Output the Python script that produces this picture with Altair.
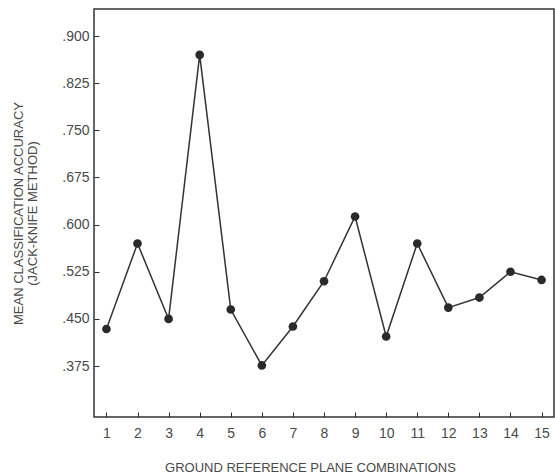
import altair as alt
import pandas as pd

combos = list(range(1, 16))
accuracy = [0.434, 0.570, 0.450, 0.870, 0.465, 0.376, 0.438, 0.510, 0.613,
            0.422, 0.570, 0.468, 0.484, 0.525, 0.512]
y_ticks = [0.375, 0.450, 0.525, 0.600, 0.675, 0.750, 0.825, 0.900]

df = pd.DataFrame({"combo": combos, "acc": accuracy})

FONT = "Liberation Sans"
TXT = "#4a4a4a"
INK = "#2a2a2a"

x = alt.X("combo:Q",
          scale=alt.Scale(domain=[0.6, 15.4], nice=False, zero=False),
          axis=alt.Axis(values=combos, format="d", offset=-5, tickSize=5,
                        tickColor=INK, tickWidth=1, domain=False, grid=False,
                        labelPadding=9, labelFont=FONT, labelFontSize=14,
                        labelColor=TXT, title="GROUND REFERENCE PLANE COMBINATIONS",
                        titleFont=FONT, titleFontSize=13, titleFontWeight="normal",
                        titleColor=TXT, titlePadding=21, titleX=216))
y = alt.Y("acc:Q",
          scale=alt.Scale(domain=[0.294, 0.943], nice=False, zero=False),
          axis=alt.Axis(values=y_ticks, offset=-5, tickSize=5, tickColor=INK,
                        tickWidth=1, domain=False, grid=False, labelPadding=5,
                        labelExpr="substring(format(datum.value, '.3f'), 1)",
                        labelFont=FONT, labelFontSize=14, labelColor=TXT,
                        title=["MEAN CLASSIFICATION ACCURACY", "(JACK-KNIFE METHOD)"],
                        titleFont=FONT, titleFontSize=13, titleFontWeight="normal",
                        titleColor=TXT, titlePadding=22, titleLineHeight=14))

line = alt.Chart(df).mark_line(color="#333333", strokeWidth=1.5).encode(x=x, y=y)
pts = alt.Chart(df).mark_circle(color=INK, opacity=1, size=75).encode(x=x, y=y)

chart = (line + pts).properties(
    width=460, height=408,
    background="white",
    autosize=alt.AutoSizeParams(type="none"),
    padding={"left": 94, "top": 9, "right": 1, "bottom": 57},
).configure_view(stroke="#333333", strokeWidth=1.5)

chart.save("out.html", embed_options={"renderer": "svg", "actions": False})
